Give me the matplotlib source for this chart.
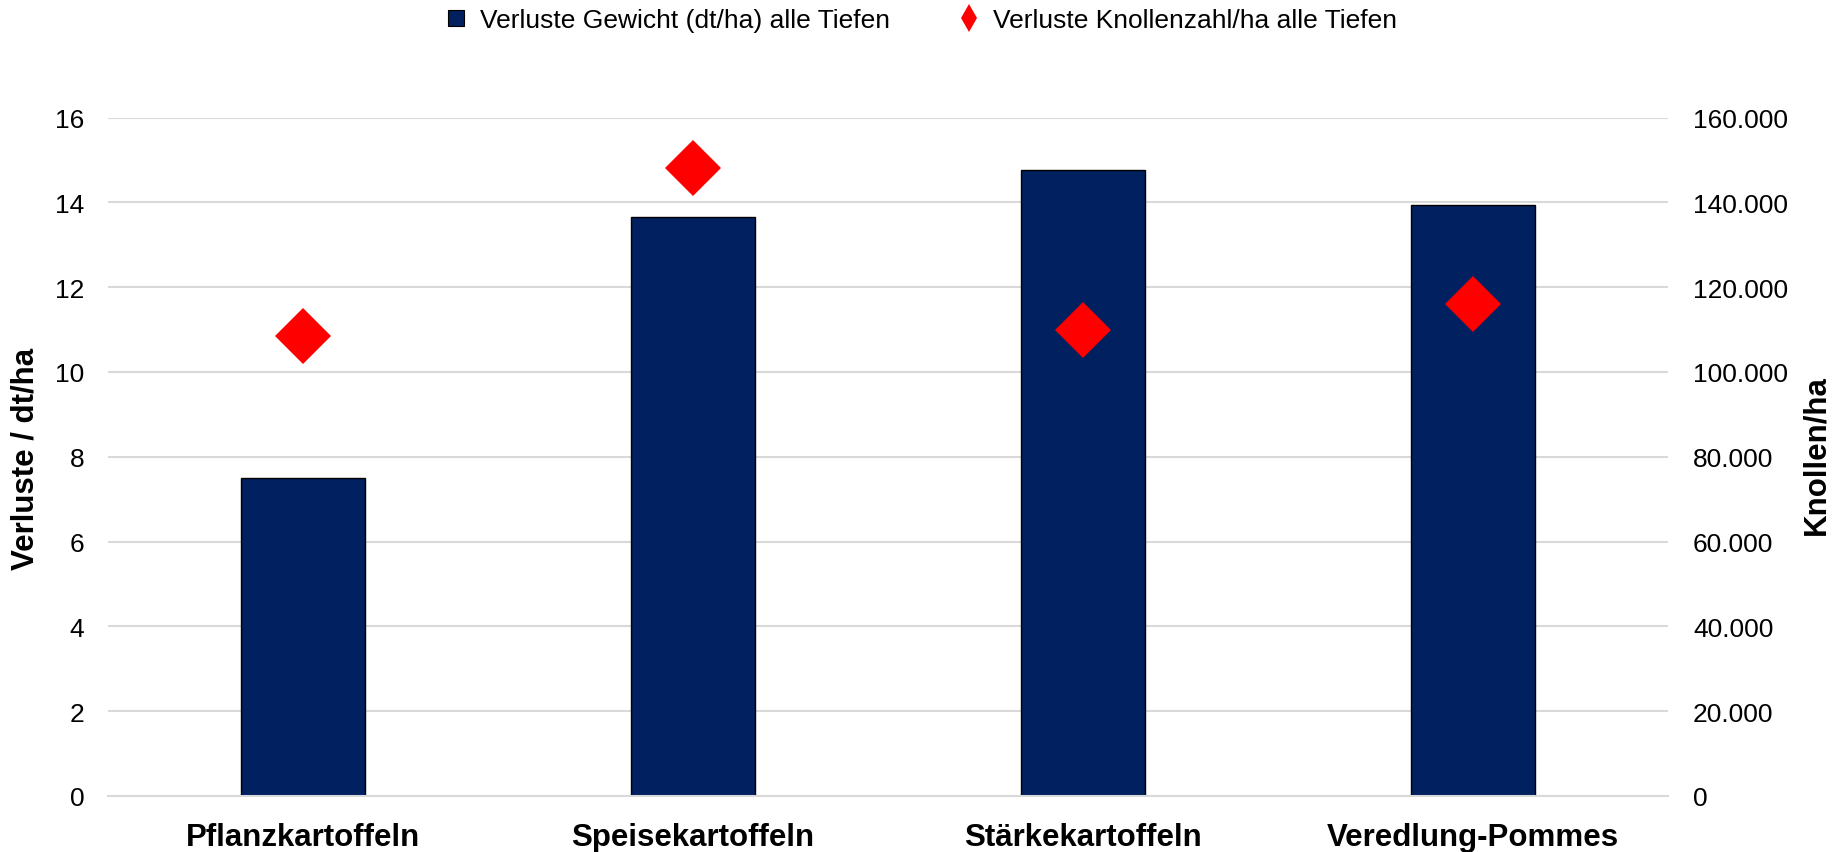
import matplotlib
matplotlib.use("Agg")
import matplotlib.pyplot as plt
from matplotlib.ticker import FuncFormatter
from matplotlib.lines import Line2D

plt.rcParams['font.family'] = ['Liberation Sans', 'DejaVu Sans']

categories = ["Pflanzkartoffeln", "Speisekartoffeln", "Stärkekartoffeln", "Veredlung-Pommes"]
weight_loss = [7.5, 13.65, 14.77, 13.93]          # dt/ha (left axis)
tuber_loss = [108500, 148000, 110000, 116000]     # Knollen/ha (right axis)
left_ticks = [0, 2, 4, 6, 8, 10, 12, 14, 16]
right_ticks = [0, 20000, 40000, 60000, 80000, 100000, 120000, 140000, 160000]

bar_name = "Verluste Gewicht (dt/ha) alle Tiefen"
pt_name = "Verluste Knollenzahl/ha alle Tiefen"
left_label = "Verluste / dt/ha"
right_label = "Knollen/ha"

navy = "#002060"
red = "#ff0000"
grid_c = "#d9d9d9"

fig = plt.figure(figsize=(18.39, 8.53), dpi=100)
ax = fig.add_axes([108/1839, 1-797/853, (1668-108)/1839, (797-118.5)/853])
ax2 = ax.twinx()

x = list(range(len(categories)))
ax.bar(x, weight_loss, width=0.316, color=navy, edgecolor="black", linewidth=1.0, zorder=2)
ax2.plot(x, tuber_loss, linestyle="none", marker="D", markersize=28.5,
         color=red, markeredgewidth=0, zorder=3)

ax.set_xlim(-0.5, len(categories) - 0.5)
ax.set_ylim(0, 16)
ax2.set_ylim(0, 160000)
ax.set_yticks(left_ticks)
ax2.set_yticks(right_ticks)
ax.yaxis.grid(True, color=grid_c, linewidth=1.5, zorder=0)
ax.set_axisbelow(True)

def thousands(v, pos):
    return f"{int(v):,}".replace(",", ".")
ax2.yaxis.set_major_formatter(FuncFormatter(thousands))

ax.set_xticks(x)
ax.set_xticklabels(categories, fontsize=22.5, fontweight="bold")
ax.tick_params(axis="x", length=0, pad=19)
ax.tick_params(axis="y", length=0, pad=17, labelsize=19)
ax2.tick_params(axis="y", length=0, pad=18, labelsize=19)

for a in (ax, ax2):
    for s in a.spines.values():
        s.set_visible(False)
ax.spines["bottom"].set_visible(True)
ax.spines["bottom"].set_color(grid_c)
ax.spines["bottom"].set_linewidth(1.5)

fig.text(26/1839, 1-459/853, left_label, rotation=90, ha="center", va="center",
         fontsize=22.5, fontweight="bold")
fig.text(1816/1839, 1-455/853, right_label, rotation=90, ha="center", va="center",
         fontsize=22.5, fontweight="bold")

handles = [
    Line2D([], [], linestyle="none", marker="s", markersize=11, markerfacecolor=navy,
           markeredgecolor="black", markeredgewidth=0.8),
    Line2D([], [], linestyle="none", marker="d", markersize=14, color=red, markeredgewidth=0),
]
fig.legend(handles, [bar_name, pt_name], loc="upper center", bbox_to_anchor=(0.501, 1.017),
           ncol=2, frameon=False, fontsize=19, handlelength=0.8, handletextpad=0.5,
           columnspacing=2.6)

fig.savefig("out.png", dpi=100)
